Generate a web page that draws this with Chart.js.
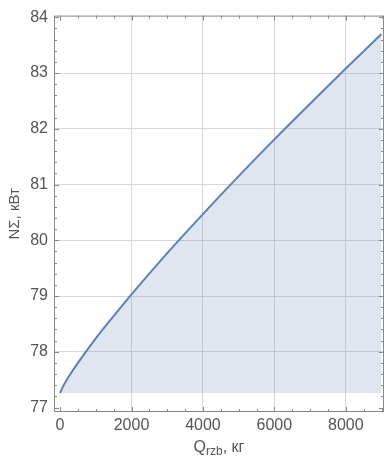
<!DOCTYPE html>
<html>
<head>
<meta charset="utf-8">
<script src="https://cdn.jsdelivr.net/npm/chart.js@4"></script>
<style>
  html, body { margin: 0; padding: 0; background: #fff; }
  #wrap { width: 384px; height: 460px; }
</style>
</head>
<body>
<div id="wrap"><canvas id="plot"></canvas></div>
<script>
// Q_rzb, kg
const qValues = [0, 100, 250, 500, 1000, 1500, 2000, 3000, 4000, 5000, 6000, 7000, 8000, 9000];
// N sigma, kW
const nValues = [77.26, 77.40, 77.56, 77.80, 78.24, 78.64, 79.03, 79.77, 80.47, 81.15, 81.81, 82.45, 83.08, 83.70];
const xTicks = [0, 2000, 4000, 6000, 8000];
const yTicks = [77, 78, 79, 80, 81, 82, 83, 84];

const points = qValues.map((q, i) => ({ x: q, y: nValues[i] }));
const textColor = '#555';
const font = { family: 'Liberation Sans, Arial, sans-serif', size: 16 };

// frame, inward ticks and x title with subscript
const framePlugin = {
  id: 'frame',
  afterDraw(chart) {
    const ctx = chart.ctx;
    const a = chart.chartArea;
    const xs = chart.scales.x, ys = chart.scales.y;
    ctx.save();
    ctx.strokeStyle = '#888';
    ctx.lineWidth = 1;
    ctx.strokeRect(a.left + 0.5, a.top + 0.5, a.right - a.left - 1, a.bottom - a.top - 1);
    ctx.beginPath();
    for (let v = 0; v <= 9000; v += 500) {
      const px = Math.round(xs.getPixelForValue(v)) + 0.5;
      const len = v % 2000 === 0 ? 5 : 3;
      ctx.moveTo(px, a.bottom); ctx.lineTo(px, a.bottom - len);
      ctx.moveTo(px, a.top); ctx.lineTo(px, a.top + len);
    }
    for (let v = 77; v <= 84.001; v += 0.2) {
      const py = Math.round(ys.getPixelForValue(v)) + 0.5;
      const major = Math.abs(v - Math.round(v)) < 0.01;
      const len = major ? 5 : 3;
      ctx.moveTo(a.left, py); ctx.lineTo(a.left + len, py);
      ctx.moveTo(a.right, py); ctx.lineTo(a.right - len, py);
    }
    ctx.stroke();

    ctx.fillStyle = textColor;
    ctx.textBaseline = 'alphabetic';
    ctx.textAlign = 'left';
    const big = '16px Liberation Sans, Arial, sans-serif';
    const small = '12px Liberation Sans, Arial, sans-serif';
    ctx.font = big;
    const w1 = ctx.measureText('Q').width;
    const w3 = ctx.measureText(', кг').width;
    ctx.font = small;
    const w2 = ctx.measureText('rzb').width;
    let x0 = (a.left + a.right) / 2 - (w1 + w2 + w3) / 2;
    const base = 452;
    ctx.font = big;
    ctx.fillText('Q', x0, base);
    ctx.font = small;
    ctx.fillText('rzb', x0 + w1, base + 3);
    ctx.font = big;
    ctx.fillText(', кг', x0 + w1 + w2, base);
    ctx.restore();
  }
};

new Chart(document.getElementById('plot'), {
  type: 'line',
  data: {
    datasets: [{
      data: points,
      borderColor: '#5e81b5',
      borderWidth: 2,
      backgroundColor: 'rgba(94, 129, 181, 0.2)',
      fill: { value: nValues[0] },
      pointRadius: 0,
      cubicInterpolationMode: 'monotone'
    }]
  },
  options: {
    responsive: true,
    maintainAspectRatio: false,
    animation: false,
    layout: { padding: { top: 13, right: 0, left: 0, bottom: 0 } },
    plugins: { legend: { display: false }, tooltip: { enabled: false } },
    scales: {
      x: {
        type: 'linear',
        min: -170,
        max: 9070,
        afterBuildTicks: s => { s.ticks = xTicks.map(v => ({ value: v })); },
        afterFit: s => { s.height = 48; },
        grid: {
          drawTicks: false,
          color: c => c.tick && c.tick.value === 0 ? 'rgba(0,0,0,0)' : '#d8d8d8'
        },
        border: { display: false },
        ticks: { color: textColor, font: font, padding: 4, maxRotation: 0, callback: v => String(v) }
      },
      y: {
        min: 76.92,
        max: 84.03,
        afterBuildTicks: s => { s.ticks = yTicks.map(v => ({ value: v })); },
        afterFit: s => { s.width = 54; },
        grid: {
          drawTicks: false,
          color: c => c.tick && (c.tick.value === 77 || c.tick.value === 84) ? 'rgba(0,0,0,0)' : '#d8d8d8'
        },
        border: { display: false },
        title: { display: true, text: 'NΣ, кВт', color: textColor, font: { family: font.family, size: 15 }, padding: { top: 6, bottom: 0 } },
        ticks: { color: textColor, font: font, padding: 6, callback: v => String(v) }
      }
    }
  },
  plugins: [framePlugin]
});
</script>
</body>
</html>
